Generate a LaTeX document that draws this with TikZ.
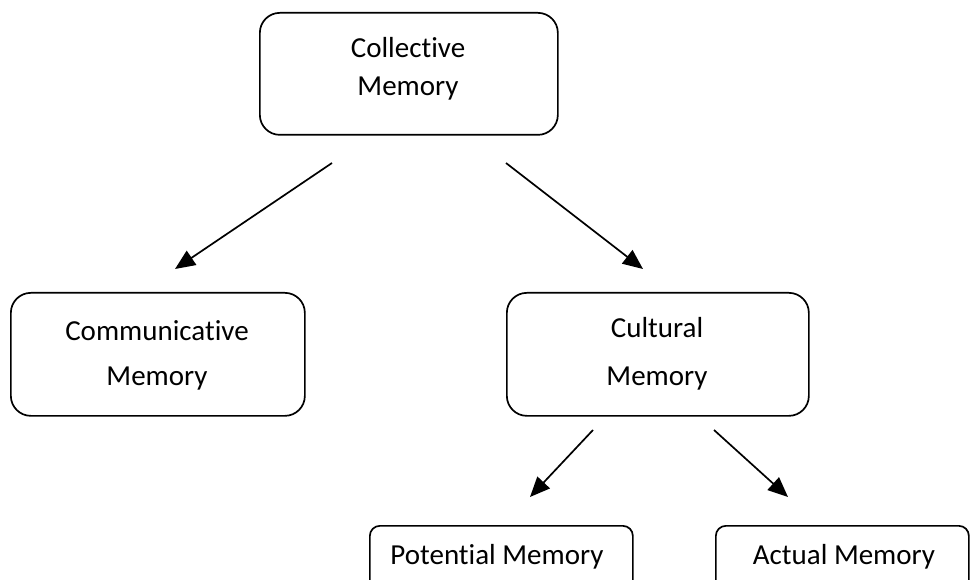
\documentclass[tikz,border=0pt]{standalone}
\usepackage{fontspec}
\setmainfont{Carlito}[Ligatures={NoCommon}]
\usetikzlibrary{arrows.meta}
\begin{document}
\begin{tikzpicture}[x=1pt,y=-1pt,
  box/.style={draw,line width=1.7pt,rounded corners=20pt,inner sep=0pt,anchor=north west},
  smallbox/.style={draw,line width=1.7pt,rounded corners=10pt,inner sep=0pt,anchor=north west},
  lbl/.style={font=\fontsize{29}{35}\selectfont,inner sep=0pt},
  conn/.style={line width=1.7pt,-{Triangle[length=20pt,width=17pt]}}]
\useasboundingbox (0,0) rectangle (970,580);
\clip (0,0) rectangle (970,580);
% boxes
\node[box,minimum width=298pt,minimum height=122pt] (coll) at (259,12) {};
\node[box,minimum width=294pt,minimum height=123pt] (comm) at (10,292) {};
\node[box,minimum width=302pt,minimum height=123pt] (cult) at (506,292) {};
\node[smallbox,minimum width=263pt,minimum height=90pt] (pot) at (369,525) {};
\node[smallbox,minimum width=253pt,minimum height=90pt] (act) at (715,525) {};
% labels
\node[lbl] (collA) at (408,48) {Collective};
\node[lbl] (collB) at (408,89) {Memory};
\node[lbl] (commA) at (157,331) {Communicative};
\node[lbl] (commB) at (157,379) {Memory};
\node[lbl] (cultA) at (657,328) {Cultural};
\node[lbl] (cultB) at (657,379) {Memory};
\node[lbl] (potL) at (497,557) {Potential Memory};
\node[lbl] (actL) at (844,557) {Actual Memory};
% connector ends
\coordinate (a1s) at (332,163);
\coordinate (a1e) at (175,269);
\coordinate (a2s) at (506,163);
\coordinate (a2e) at (643,269);
\coordinate (a3s) at (593,430);
\coordinate (a3e) at (530,497);
\coordinate (a4s) at (714,430);
\coordinate (a4e) at (788,497);
\draw[conn] (a1s) -- (a1e);
\draw[conn] (a2s) -- (a2e);
\draw[conn] (a3s) -- (a3e);
\draw[conn] (a4s) -- (a4e);
\end{tikzpicture}
\end{document}
